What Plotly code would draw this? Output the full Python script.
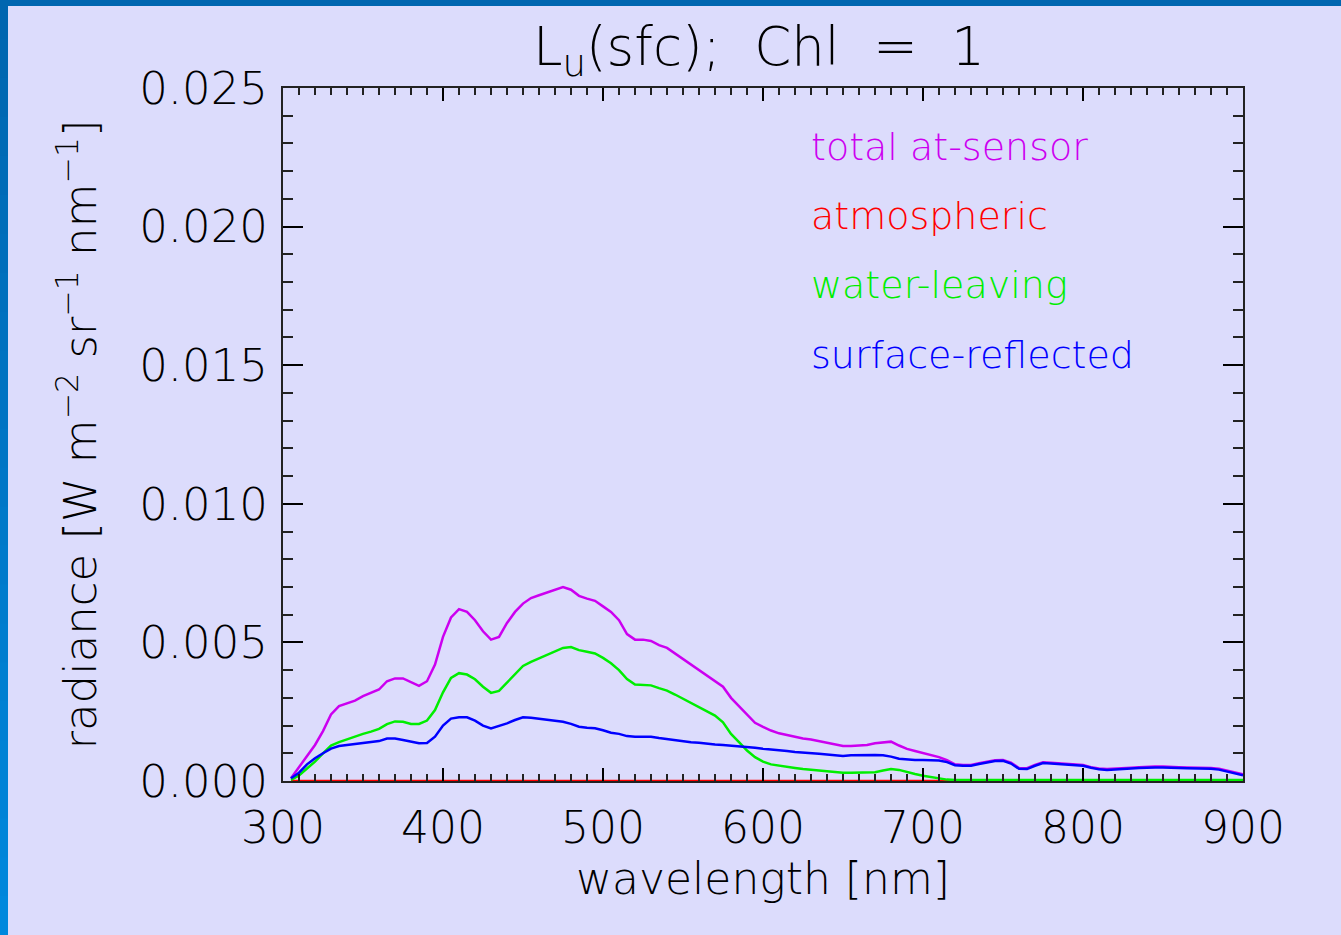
import plotly.graph_objects as go

# ---------------- data ----------------
wavelength = list(range(305, 901, 5))

total_at_sensor = [
    0.0001, 0.0005, 0.0009, 0.0013, 0.0018, 0.0024, 0.0027, 0.0028, 0.0029, 0.00306,   # 305-350
    0.00318, 0.0033, 0.0036, 0.0037, 0.0037, 0.00355, 0.00343, 0.0036, 0.0042, 0.0052,  # 355-400
    0.0059, 0.0062, 0.0061, 0.0058, 0.0054, 0.0051, 0.0052, 0.0057, 0.0061, 0.0064,     # 405-450
    0.0066, 0.0067, 0.0068, 0.0069, 0.0070, 0.0069, 0.00668, 0.00658, 0.0065, 0.0063,   # 455-500
    0.0061, 0.0058, 0.0053, 0.0051, 0.0051, 0.00505, 0.0049, 0.0048, 0.0046, 0.0044,    # 505-550
    0.0042, 0.0040, 0.0038, 0.0036, 0.0034, 0.0030, 0.0027, 0.0024, 0.0021, 0.00195,    # 555-600
    0.00182, 0.00172, 0.00165, 0.00158, 0.00153, 0.0015, 0.00144, 0.0014, 0.00132, 0.00126,  # 605-650
    0.00126, 0.00127, 0.0013, 0.00136, 0.0014, 0.00142, 0.00128, 0.00116, 0.00108, 0.001,   # 655-700
    0.00092, 0.00086, 0.00075, 0.0006, 0.00058, 0.00058, 0.00064, 0.0007, 0.00075, 0.00076,  # 705-750
    0.00066, 0.00047, 0.00046, 0.00058, 0.00068, 0.00066, 0.00064, 0.00063, 0.00061, 0.00058,  # 755-800
    0.0005, 0.00045, 0.00043, 0.00044, 0.00045, 0.00048, 0.0005, 0.00052, 0.00052, 0.00052,  # 805-850
    0.00052, 0.0005, 0.00049, 0.00049, 0.00048, 0.00047, 0.00044, 0.00037, 0.0003, 0.00024,  # 855-900
]

atmospheric = [0.0] * 120

water_leaving = [
    0.00004, 0.0002, 0.00045, 0.0007, 0.001, 0.00128, 0.0014, 0.0015, 0.00162, 0.0017,     # 305-350
    0.00178, 0.00188, 0.00205, 0.00215, 0.00214, 0.00206, 0.00206, 0.00218, 0.00256, 0.0032,  # 355-400
    0.00372, 0.00389, 0.00384, 0.00367, 0.0034, 0.00318, 0.00325, 0.00355, 0.00388, 0.00415,  # 405-450
    0.0043, 0.00443, 0.00455, 0.00467, 0.0048, 0.00483, 0.00472, 0.00466, 0.0046, 0.00444,    # 455-500
    0.00425, 0.004, 0.00368, 0.00348, 0.00346, 0.00345, 0.00335, 0.00326, 0.00312, 0.00297,   # 505-550
    0.00282, 0.00266, 0.00252, 0.00236, 0.00212, 0.0017, 0.0014, 0.0011, 0.00086, 0.0007,     # 555-600
    0.0006, 0.00055, 0.0005, 0.00047, 0.00043, 0.0004, 0.00037, 0.00034, 0.00032, 0.0003,     # 605-650
    0.0003, 0.0003, 0.0003, 0.00032, 0.00038, 0.00043, 0.0004, 0.00032, 0.00025, 0.00019,     # 655-700
    0.00015, 0.00009, 0.00005, 0.00004, 0.00004, 0.00004, 0.00004, 0.00004, 0.00004, 0.00004,  # 705-750
    0.00004, 0.00004, 0.00004, 0.00004, 0.00004, 0.00004, 0.00004, 0.00004, 0.00004, 0.00004,  # 755-800
    0.00004, 0.00004, 0.00004, 0.00004, 0.00004, 0.00004, 0.00004, 0.00004, 0.00004, 0.00004,  # 805-850
    0.00004, 0.00004, 0.00004, 0.00004, 0.00004, 0.00004, 0.00004, 0.00004, 0.00004, 0.00004,  # 855-900
]

surface_reflected = [
    0.0001, 0.0003, 0.0006, 0.00082, 0.001, 0.00117, 0.00126, 0.0013, 0.00134, 0.00137,     # 305-350
    0.0014, 0.00144, 0.00153, 0.00153, 0.00148, 0.00142, 0.00136, 0.00137, 0.0016, 0.002,   # 355-400
    0.00225, 0.0023, 0.0023, 0.00218, 0.002, 0.0019, 0.00198, 0.00208, 0.0022, 0.0023,      # 405-450
    0.00228, 0.00224, 0.0022, 0.00218, 0.00214, 0.00206, 0.00196, 0.00192, 0.0019, 0.00183,  # 455-500
    0.00174, 0.0017, 0.00162, 0.0016, 0.0016, 0.0016, 0.00155, 0.00151, 0.00146, 0.00143,    # 505-550
    0.0014, 0.00138, 0.00134, 0.00132, 0.0013, 0.00128, 0.00126, 0.00123, 0.0012, 0.00116,   # 555-600
    0.00114, 0.00112, 0.00108, 0.00105, 0.00102, 0.001, 0.00098, 0.00096, 0.00092, 0.0009,   # 605-650
    0.00093, 0.00094, 0.00094, 0.00094, 0.00093, 0.00088, 0.0008, 0.00077, 0.00076, 0.00076, # 655-700
    0.00075, 0.00074, 0.00068, 0.00057, 0.00055, 0.00055, 0.00061, 0.00067, 0.00072, 0.00073,  # 705-750
    0.00063, 0.00044, 0.00043, 0.00055, 0.00065, 0.00063, 0.00061, 0.0006, 0.00058, 0.00055,   # 755-800
    0.00048, 0.00042, 0.0004, 0.00041, 0.00042, 0.00045, 0.00047, 0.00049, 0.00049, 0.00049,   # 805-850
    0.00049, 0.00047, 0.00046, 0.00046, 0.00045, 0.00044, 0.00041, 0.00034, 0.00027, 0.00021,  # 855-900
]

series_names = ["total at-sensor", "atmospheric", "water-leaving", "surface-reflected"]
series_values = [total_at_sensor, atmospheric, water_leaving, surface_reflected]
series_colors = ["#CC00F0", "#FF0000", "#00EE00", "#0000FF"]

x_ticks = [300, 400, 500, 600, 700, 800, 900]
y_ticks = [0.000, 0.005, 0.010, 0.015, 0.020, 0.025]
y_tick_labels = ["0.000", "0.005", "0.010", "0.015", "0.020", "0.025"]

FONT = "DejaVu Sans"
WEIGHT = 300
BG = "#DCDCFC"

# ---------------- figure ----------------
W, H = 1341, 935
L, R, T, B = 283, 98, 88, 154

fig = go.Figure()
for name, vals, col in zip(series_names, series_values, series_colors):
    fig.add_trace(go.Scatter(
        x=wavelength, y=vals, mode="lines", name=name,
        line=dict(color=col, width=2.5),
        cliponaxis=(name != "atmospheric"),
        showlegend=False,
    ))

pw, ph = W - L - R, H - T - B
def px2x(px):
    return (px - L) / pw
def py2y(py):
    return (H - B - py) / ph

# colored-text legend
leg_y_px = [147, 216, 285, 355]
for name, col, ypx in zip(series_names, series_colors, leg_y_px):
    fig.add_annotation(
        xref="paper", yref="paper",
        x=px2x(809), y=py2y(ypx),
        xanchor="left", yanchor="middle", showarrow=False,
        text=name, font=dict(family=FONT, size=38, color=col, weight=WEIGHT),
    )

# blue frame (top bar and gradient left bar)
shapes = [dict(type="rect", xref="paper", yref="paper",
               x0=px2x(0), x1=px2x(W), y0=py2y(6), y1=py2y(0),
               fillcolor="#0066B0", line=dict(width=0), layer="above")]
n = 24
for i in range(n):
    t = i / (n - 1)
    g_ = int(0x66 + (0x88 - 0x66) * t)
    b_ = int(0xB0 + (0xDD - 0xB0) * t)
    shapes.append(dict(type="rect", xref="paper", yref="paper",
                       x0=px2x(0), x1=px2x(8),
                       y0=py2y(H * (i + 1) / n + 1), y1=py2y(H * i / n),
                       fillcolor=f"rgb(0,{g_},{b_})", line=dict(width=0), layer="above"))

fig.update_layout(
    width=W, height=H,
    margin=dict(l=L, r=R, t=T, b=B),
    paper_bgcolor=BG, plot_bgcolor=BG,
    font=dict(family=FONT, color="#000000", weight=WEIGHT),
    shapes=shapes,
    title=dict(
        text="L<sub>u</sub>(sfc);\u00a0 Chl\u00a0\u00a0=\u00a0\u00a01",
        x=(759) / W, xanchor="center", xref="container",
        y=1 - 46 / H, yanchor="middle", yref="container",
        font=dict(family=FONT, size=53, color="#000000", weight=WEIGHT),
    ),
    showlegend=False,
)

fig.update_xaxes(
    range=[300, 900], tickvals=x_ticks, ticktext=[str(v) for v in x_ticks],
    ticks="inside", ticklen=13, tickwidth=1.5, tickcolor="#000000",
    minor=dict(dtick=10, ticks="inside", ticklen=7, tickwidth=1.5, tickcolor="#222222"),
    showline=True, linecolor="#222222", linewidth=2, mirror="allticks",
    showgrid=False, zeroline=False,
    tickfont=dict(family=FONT, size=44, color="#000000", weight=WEIGHT),
    ticklabelstandoff=7,
    title=dict(text="wavelength [nm]", font=dict(family=FONT, size=44, color="#000000", weight=WEIGHT), standoff=8),
)
fig.update_yaxes(
    range=[0, 0.025], tickvals=y_ticks, ticktext=y_tick_labels,
    ticks="inside", ticklen=20, tickwidth=1.5, tickcolor="#000000",
    minor=dict(dtick=0.001, ticks="inside", ticklen=10, tickwidth=1.5, tickcolor="#222222"),
    showline=True, linecolor="#222222", linewidth=2, mirror="allticks",
    showgrid=False, zeroline=False,
    tickfont=dict(family=FONT, size=45, color="#000000", weight=WEIGHT),
    ticklabelstandoff=4,
    title=dict(text="radiance [W m<sup>\u22122</sup> sr<sup>\u22121</sup> nm<sup>\u22121</sup>]",
               font=dict(family=FONT, size=45, color="#000000", weight=WEIGHT), standoff=28),
)

fig.write_html("out.html")
